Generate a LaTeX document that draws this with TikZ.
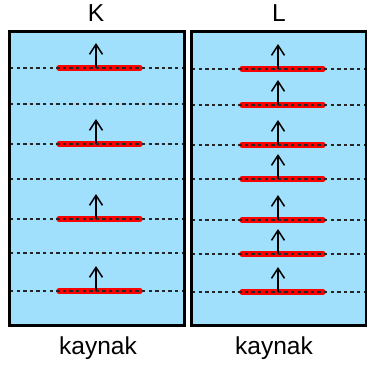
\documentclass[tikz,border=0pt]{standalone}
\usepackage{fontspec}
\setmainfont{Liberation Sans}
\usetikzlibrary{arrows.meta}
\definecolor{water}{HTML}{A0E0FD}
\definecolor{film}{HTML}{FF0000}
\tikzset{
  panel/.style={draw=black, line width=3pt, fill=water, inner sep=0pt, minimum width=175pt, minimum height=294pt},
  level/.style={draw=black!85, line width=1.1pt, dash pattern=on 3.3pt off 3.3pt},
  sheet/.style={draw=film, line width=5.5pt, line cap=round},
  rise/.style={draw=black, line width=1.5pt, -{Straight Barb[length=10pt,width=13pt,line width=1.5pt]}},
  caption/.style={font=\fontsize{24.5}{28}\selectfont, anchor=base, inner sep=0pt}
}
\begin{document}
\begin{tikzpicture}[x=1pt, y=-1pt]
\useasboundingbox (0,0) rectangle (366,366);
% the two containers
\node[panel] (K) at (96.5,178.5) {};
\node[panel] (L) at (278.5,178.5) {};
% left container: four sheets, seven levels
\foreach \y [count=\i] in {68,144,219,291} {
  \coordinate (ka\i) at (59,\y);
  \coordinate (kb\i) at (140,\y);
  \coordinate (kc\i) at (96,\y);
  \coordinate (kd\i) at (96,\y-25);
  \draw[sheet] (ka\i) -- (kb\i);
  \draw[rise] (kc\i) -- (kd\i);
}
\foreach \y [count=\i] in {68,104,144,179,219,253,291} {
  \coordinate (kl\i) at (10,\y);
  \coordinate (kr\i) at (184,\y);
  \draw[level] (kl\i) -- (kr\i);
}
% right container: seven sheets, seven levels
\foreach \y [count=\i] in {69,105,145,179,220,254,292} {
  \coordinate (la\i) at (242,\y);
  \coordinate (lb\i) at (323,\y);
  \coordinate (lc\i) at (278,\y);
  \coordinate (ld\i) at (278,\y-25);
  \draw[sheet] (la\i) -- (lb\i);
  \draw[rise] (lc\i) -- (ld\i);
  \coordinate (ll\i) at (192,\y);
  \coordinate (lr\i) at (366,\y);
  \draw[level] (ll\i) -- (lr\i);
}
% borders on top
\node[panel, fill=none] at (K.center) {};
\node[panel, fill=none] at (L.center) {};
% labels
\node[caption] (tK) at (96,22) {K};
\node[caption] (tL) at (279,22) {L};
\node[caption] (sK) at (98,354) {kaynak};
\node[caption] (sL) at (274,354) {kaynak};
\end{tikzpicture}
\end{document}
